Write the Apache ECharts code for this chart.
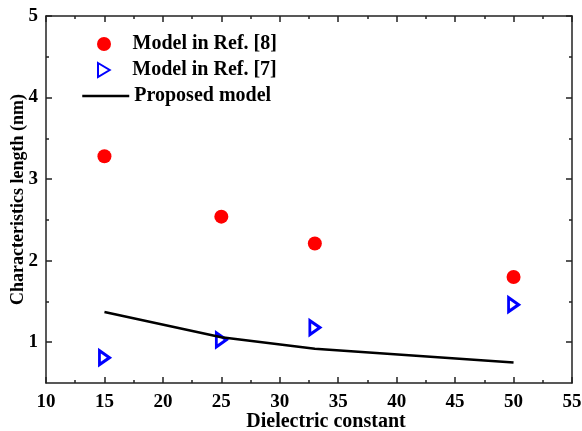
<!DOCTYPE html>
<html>
<head>
<meta charset="utf-8">
<script src="https://cdn.jsdelivr.net/npm/echarts@6/dist/echarts.min.js"></script>
<style>
  html, body { margin: 0; padding: 0; background: #fff; }
  #chart { width: 582px; height: 431px; }
</style>
</head>
<body>
<div id="chart"></div>
<script>
// data
var ref8X = [15, 25, 33, 50];
var ref8Y = [3.28, 2.54, 2.21, 1.80];
var ref7X = [15, 25, 33, 50];
var ref7Y = [0.81, 1.03, 1.18, 1.46];
var modelX = [15, 25, 33, 50];
var modelY = [1.37, 1.06, 0.92, 0.75];
var yMajor = [1, 2, 3, 4, 5];
var yMinor = [1.5, 2.5, 3.5, 4.5];

function pairs (xs, ys) {
  return xs.map(function (x, i) { return [x, ys[i]] })
}

var font = 'Liberation Serif';
var axisColor = '#222';

function xAx (pos, show) {
  return {
    type: 'value', position: pos, min: 10, max: 55, interval: 5,
    axisLine: { show: true, onZero: false, lineStyle: { color: axisColor, width: 1.5 } },
    axisTick: { inside: true, length: 6, lineStyle: { color: axisColor, width: 1.5 } },
    minorTick: { show: true, splitNumber: 2, length: 3, lineStyle: { color: axisColor, width: 1.5 } },
    axisLabel: { show: show, margin: 10, fontFamily: font, fontWeight: 'bold', fontSize: 19, color: '#000' },
    splitLine: { show: false },
    name: show ? 'Dielectric constant' : '',
    nameLocation: 'middle',
    nameGap: 29,
    nameMoveOverlap: false,
    nameTextStyle: { fontFamily: font, fontWeight: 'bold', fontSize: 20, color: '#000', padding: [0, 0, 0, 34] }
  }
}

function yAx (pos, show, ticks, len, line) {
  return {
    type: 'value', position: pos, min: 0.5, max: 5,
    axisLine: { show: line, onZero: false, lineStyle: { color: axisColor, width: 1.5 } },
    axisTick: { inside: true, length: len, customValues: ticks, lineStyle: { color: axisColor, width: 1.5 } },
    axisLabel: { show: show, customValues: yMajor, margin: 8, fontFamily: font, fontWeight: 'bold', fontSize: 19, color: '#000' },
    splitLine: { show: false },
    name: show ? 'Characteristics length (nm)' : '',
    nameLocation: 'middle',
    nameGap: 19,
    nameMoveOverlap: false,
    nameTextStyle: { fontFamily: font, fontWeight: 'bold', fontSize: 18, color: '#000' }
  }
}

var legendText = { fontFamily: font, fontWeight: 'bold', fontSize: 20, color: '#000' };
function leg (name, left, top, extra) {
  var l = {
    data: [name], left: left, top: top, itemWidth: 47, itemHeight: 14,
    padding: 0, textStyle: legendText, selectedMode: false
  };
  if (extra) Object.assign(l, extra);
  return l
}

var chart = echarts.init(document.getElementById('chart'), null, { renderer: 'canvas' });
chart.setOption({
  animation: false,
  backgroundColor: '#fff',
  grid: { left: 46, right: 10, top: 16, bottom: 48, containLabel: false, outerBoundsMode: 'none' },
  legend: [
    leg('Model in Ref. [8]', 97, 34),
    leg('Model in Ref. [7]', 97, 60),
    leg('Proposed model', 81, 86, { itemStyle: { opacity: 0 }, lineStyle: { color: '#000', width: 2.5 } })
  ],
  xAxis: [xAx('bottom', true), xAx('top', false)],
  yAxis: [
    yAx('left', true, yMajor, 6, true),
    yAx('right', false, yMajor, 6, true),
    yAx('left', false, yMinor, 3, false),
    yAx('right', false, yMinor, 3, false)
  ],
  series: [
    {
      name: 'Model in Ref. [8]', type: 'scatter',
      symbol: 'circle', symbolSize: 14,
      itemStyle: { color: '#ff0000', opacity: 1 },
      data: pairs(ref8X, ref8Y)
    },
    {
      name: 'Model in Ref. [7]', type: 'scatter',
      symbol: 'path://M0,0L10,6L0,12Z', symbolSize: [12, 14], symbolKeepAspect: true,
      itemStyle: { color: '#fff', borderColor: '#0000ff', borderWidth: 3, opacity: 1 },
      data: pairs(ref7X, ref7Y)
    },
    {
      name: 'Proposed model', type: 'line',
      symbol: 'none',
      lineStyle: { color: '#000', width: 2.5 },
      itemStyle: { color: '#000' },
      data: pairs(modelX, modelY)
    }
  ]
});
</script>
</body>
</html>
